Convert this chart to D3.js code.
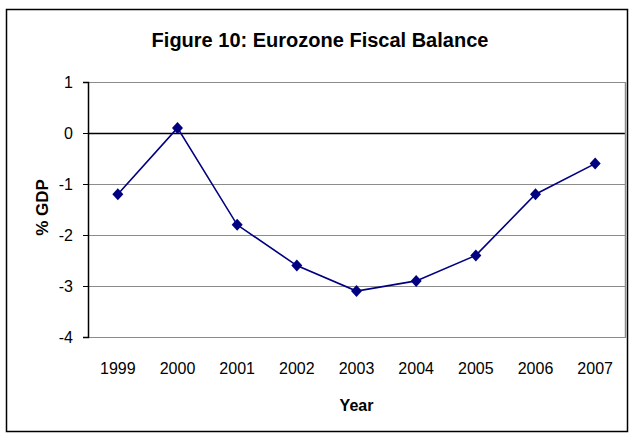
<html>
  <head>
    <meta charset="utf-8">
    <style>
      body { margin: 0; background: #fff; }
      text { font-family: 'Liberation Sans', Arial, sans-serif; }
    </style>
  </head>
  <body>
    <div id="container"></div>
    <script src="https://d3js.org/d3.v7.min.js"></script>
    <script>

    var years = ["1999", "2000", "2001", "2002", "2003", "2004", "2005", "2006", "2007"];
    var balance = [-1.2, 0.1, -1.8, -2.6, -3.1, -2.9, -2.4, -1.2, -0.6];
    var yTicks = [1, 0, -1, -2, -3, -4];

    var W = 635, H = 440;
    var margin = {top: 82, right: 10, bottom: 103, left: 88},
        width = 625 - margin.left,
        height = 337 - margin.top;

    var svg = d3.select("#container").append("svg")
        .attr("width", W).attr("height", H);

    // outer frame
    svg.append("rect")
        .attr("x", 6.5).attr("y", 9.5)
        .attr("width", 621).attr("height", 422)
        .attr("fill", "#fff").attr("stroke", "#000").attr("stroke-width", 1.5);

    svg.append("text")
        .attr("x", 320).attr("y", 47)
        .attr("text-anchor", "middle")
        .attr("font-size", 20).attr("font-weight", "bold")
        .text("Figure 10: Eurozone Fiscal Balance");

    var g = svg.append("g").attr("transform", "translate(" + margin.left + "," + margin.top + ")");

    var x = d3.scaleBand().domain(years).range([0, width]);
    var y = d3.scaleLinear().domain([-4, 1]).range([height, 0]);

    // gridlines
    g.append("g").selectAll("line")
      .data(yTicks)
      .enter().append("line")
        .attr("x1", 0).attr("x2", width)
        .attr("y1", function(d) { return Math.round(y(d)) + 0.5; })
        .attr("y2", function(d) { return Math.round(y(d)) + 0.5; })
        .attr("stroke", function(d) { return d === 0 ? "#000" : "#8c8c8c"; })
        .attr("stroke-width", function(d) { return d === 0 ? 1.5 : 1; });

    // right border of plot
    g.append("line")
        .attr("x1", width + 0.5).attr("x2", width + 0.5)
        .attr("y1", y(1)).attr("y2", y(-4) + 1)
        .attr("stroke", "#8c8c8c").attr("stroke-width", 1.5);

    var yAxis = g.append("g")
        .call(d3.axisLeft(y).tickValues(yTicks).tickSize(5).tickPadding(10)
          .tickFormat(function(d) { return String(d); }));
    yAxis.select(".domain").attr("stroke", "#000").attr("stroke-width", 1.5);
    yAxis.selectAll("text").attr("font-size", 16).attr("fill", "#000")
        .style("font-family", "'Liberation Sans', Arial, sans-serif");

    // x labels
    g.append("g").selectAll("text")
      .data(years)
      .enter().append("text")
        .attr("x", function(d) { return x(d) + x.bandwidth() / 2; })
        .attr("y", 374 - margin.top)
        .attr("text-anchor", "middle")
        .attr("font-size", 16)
        .text(function(d) { return d; });

    svg.append("text")
        .attr("x", margin.left + width / 2).attr("y", 411)
        .attr("text-anchor", "middle")
        .attr("font-size", 16).attr("font-weight", "bold")
        .text("Year");

    svg.append("text")
        .attr("transform", "translate(48," + (margin.top + height / 2 - 2) + ") rotate(-90)")
        .attr("text-anchor", "middle")
        .attr("font-size", 17).attr("font-weight", "bold")
        .text("% GDP");

    var line = d3.line()
        .x(function(d, i) { return x(years[i]) + x.bandwidth() / 2; })
        .y(function(d) { return y(d); });

    g.append("path")
        .datum(balance)
        .attr("fill", "none")
        .attr("stroke", "#000080")
        .attr("stroke-width", 1.6)
        .attr("d", line);

    g.append("g").selectAll("path")
      .data(balance)
      .enter().append("path")
        .attr("transform", function(d, i) { return "translate(" + (x(years[i]) + x.bandwidth() / 2) + "," + y(d) + ")"; })
        .attr("d", "M0,-6L5.5,0L0,6L-5.5,0Z")
        .attr("fill", "#000080");

    </script>
  </body>
</html>
